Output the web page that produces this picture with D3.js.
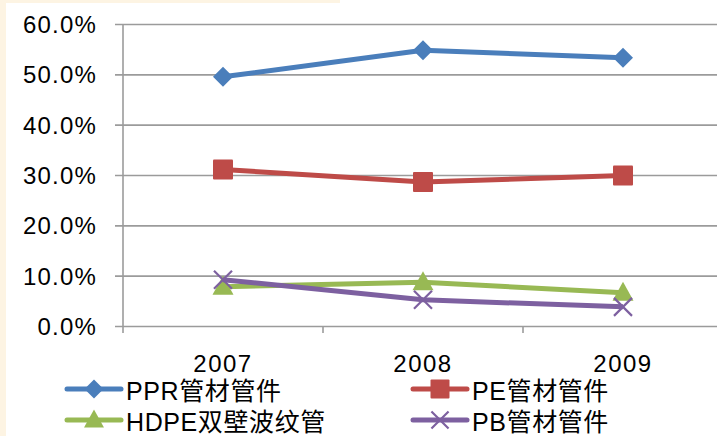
<!DOCTYPE html>
<html>
<head>
<meta charset="utf-8">
<script src="https://cdn.jsdelivr.net/npm/d3@7/dist/d3.min.js"></script>
<style>
  html, body { margin: 0; padding: 0; background: #ffffff; }
  svg { display: block; }
  text { font-family: "Liberation Sans", Arial, "Noto Sans CJK SC", sans-serif; fill: #000; }
</style>
</head>
<body>
<script>
// Share of pipe types, 2007–2009
const years = ["2007", "2008", "2009"];
const pprValues  = [0.495, 0.548, 0.533];
const peValues   = [0.311, 0.286, 0.299];
const hdpeValues = [0.078, 0.087, 0.066];
const pbValues   = [0.092, 0.052, 0.038];
const yTicks = [0, 0.1, 0.2, 0.3, 0.4, 0.5, 0.6];
const seriesNames = ["PPR管材管件", "PE管材管件", "HDPE双壁波纹管", "PB管材管件"];

const W = 718, H = 436;
const svg = d3.select("body").append("svg").attr("width", W).attr("height", H);

// Cream frame strips
svg.append("rect").attr("x", 0).attr("y", 0).attr("width", 6).attr("height", H).attr("fill", "#fdf4e3");
svg.append("rect").attr("x", 0).attr("y", 0).attr("width", 340).attr("height", 3).attr("fill", "#fdf4e3");

const x = d3.scaleBand().domain(years).range([123, 723]).padding(0);
const y = d3.scaleLinear().domain([0, 0.6]).range([326, 24]);
const cx = d => x(d) + x.bandwidth() / 2;

// Horizontal gridlines with left tick marks
const yAxis = d3.axisLeft(y).tickValues(yTicks).tickFormat(d3.format(".1%"))
  .tickSize(-(717 - 123)).tickSizeOuter(0).tickPadding(0);
const gy = svg.append("g").attr("transform", "translate(123,0)").call(yAxis);
gy.select(".domain").remove();
gy.selectAll(".tick line").attr("x1", -8).attr("stroke", "#9b9b9b").attr("stroke-width", 1.6);
gy.selectAll(".tick text").attr("x", -26).attr("dy", "0.35em")
  .style("font-size", "24px").style("letter-spacing", "1.2px");

// Vertical axis line
svg.append("line").attr("x1", 123).attr("x2", 123).attr("y1", 24).attr("y2", 333)
  .attr("stroke", "#9b9b9b").attr("stroke-width", 1.6);

// Category boundary ticks and labels
const xAxis = d3.axisBottom(x).tickSize(0).tickPadding(0);
const gx = svg.append("g").attr("transform", "translate(0,326)").call(xAxis);
gx.select(".domain").remove();
gx.selectAll(".tick text").attr("y", 46).attr("dy", 0)
  .style("font-size", "24px").style("letter-spacing", "1.5px");
svg.append("g").selectAll("line").data(years.slice(1)).join("line")
  .attr("x1", d => x(d)).attr("x2", d => x(d)).attr("y1", 326).attr("y2", 333)
  .attr("stroke", "#9b9b9b").attr("stroke-width", 1.6);

const series = [
  { name: seriesNames[0], values: pprValues,  color: "#4a7ebb", marker: "diamond" },
  { name: seriesNames[1], values: peValues,   color: "#be4b48", marker: "square" },
  { name: seriesNames[2], values: hdpeValues, color: "#98b954", marker: "triangle" },
  { name: seriesNames[3], values: pbValues,   color: "#7d60a0", marker: "x" }
];

function drawMarker(g, type, color, scale) {
  const s = scale || 1;
  if (type === "diamond") {
    g.append("path").attr("d", `M0,${-10*s}L${10*s},0L0,${10*s}L${-10*s},0Z`).attr("fill", color);
  } else if (type === "square") {
    g.append("rect").attr("x", -10*s).attr("y", -10*s).attr("width", 20*s).attr("height", 20*s)
      .attr("rx", 1).attr("fill", color);
  } else if (type === "triangle") {
    g.append("path").attr("d", `M0,${-11*s}L${10.5*s},${8*s}L${-10.5*s},${8*s}Z`).attr("fill", color);
  } else {
    g.append("path").attr("d", `M${-9*s},${-9*s}L${9*s},${9*s}M${-9*s},${9*s}L${9*s},${-9*s}`)
      .attr("stroke", color).attr("stroke-width", 2.2).attr("fill", "none");
  }
}

const line = d3.line().x((d, i) => cx(years[i])).y(d => y(d));

// Draw each series: line, then its markers
series.forEach(s => {
  svg.append("path").datum(s.values).attr("d", line).attr("fill", "none")
    .attr("stroke", s.color).attr("stroke-width", 5).attr("stroke-linejoin", "round");
  s.values.forEach((v, i) => {
    const g = svg.append("g").attr("transform", `translate(${cx(years[i])},${y(v)})`);
    drawMarker(g, s.marker, s.color);
  });
});

// Legend (two columns, two rows)
const legendPos = [
  { lx: 67, ly: 389 }, { lx: 413, ly: 389 },
  { lx: 67, ly: 420 }, { lx: 413, ly: 420 }
];
series.forEach((s, k) => {
  const p = legendPos[k];
  const g = svg.append("g").attr("transform", `translate(${p.lx},${p.ly})`);
  g.append("line").attr("x1", 0).attr("x2", 54).attr("y1", 0).attr("y2", 0)
    .attr("stroke", s.color).attr("stroke-width", 5).attr("stroke-linecap", "round");
  const m = g.append("g").attr("transform", "translate(27,0)");
  drawMarker(m, s.marker, s.color, 0.95);
  g.append("text").attr("x", 59).attr("y", 11)
    .style("font-size", "25px").style("letter-spacing", "0.6px").text(s.name);
});
</script>
</body>
</html>
